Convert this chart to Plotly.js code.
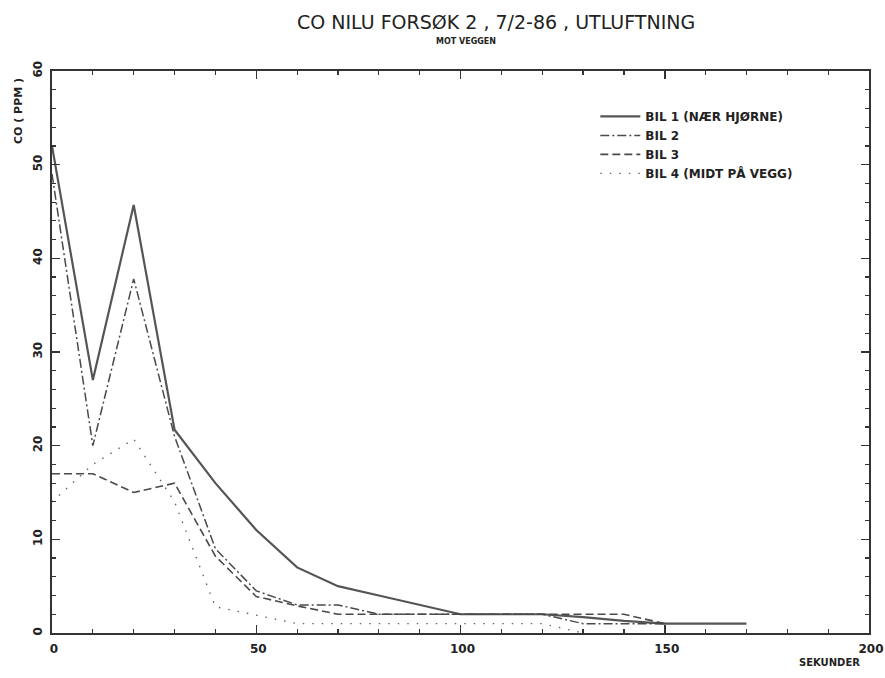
<!DOCTYPE html>
<html>
<head>
<meta charset="utf-8">
<script src="https://cdn.plot.ly/plotly-3.0.1.min.js"></script>
<style>html,body{margin:0;padding:0;background:#fff;}#chart{width:885px;height:678px;}</style>
</head>
<body>
<div id="chart"></div>
<script>
// Time (seconds)
const seconds1 = [0, 10, 20, 30, 40, 50, 60, 70, 80, 90, 100, 110, 120, 130, 140, 150, 160, 170];
const bil1 = [52, 27, 45.7, 21.7, 16, 11, 7, 5, 4, 3, 2, 2, 2, 1.7, 1.3, 1, 1, 1];
const seconds2 = [0, 10, 20, 30, 40, 50, 60, 70, 80, 90, 100, 110, 120, 130, 140, 150];
const bil2 = [49, 20, 37.8, 21, 9, 4.5, 3, 3, 2, 2, 2, 2, 2, 1, 1, 1];
const seconds3 = [0, 10, 20, 30, 40, 50, 60, 70, 80, 90, 100, 110, 120, 130, 140, 150];
const bil3 = [17, 17, 15, 16, 8.2, 3.9, 2.9, 2, 2, 2, 2, 2, 2, 2, 2, 1];
const seconds4 = [0, 10, 20, 30, 40, 50, 60, 70, 80, 90, 100, 110, 120, 130];
const bil4 = [14, 18, 20.7, 14, 2.8, 1.9, 1, 1, 1, 1, 1, 1, 1, 0];
const seriesNames = ["BIL 1 (NÆR HJØRNE)", "BIL 2", "BIL 3", "BIL 4 (MIDT PÅ VEGG)"];
const titleText = "CO NILU FORSØK 2 , 7/2-86 , UTLUFTNING";
const subtitleText = "MOT VEGGEN";
const yTitle = "CO ( PPM )";
const xTitle = "SEKUNDER";

const lineCol = "#4a4a4a";
const traces = [
  {x: seconds1, y: bil1, name: seriesNames[0], mode: "lines", line: {color: "#555", width: 2.2, dash: "solid"}},
  {x: seconds2, y: bil2, name: seriesNames[1], mode: "lines", line: {color: lineCol, width: 1.5, dash: "9px,3px,2px,3px"}},
  {x: seconds3, y: bil3, name: seriesNames[2], mode: "lines", line: {color: lineCol, width: 1.6, dash: "8px,4px"}},
  {x: seconds4, y: bil4, name: seriesNames[3], mode: "lines", line: {color: "#666", width: 1.4, dash: "1.5px,8px"}}
];

const font = "DejaVu Sans, Liberation Sans, sans-serif";
const layout = {
  width: 885, height: 678,
  margin: {l: 52, r: 16, t: 71, b: 45},
  paper_bgcolor: "#fff", plot_bgcolor: "#fff",
  showlegend: true,
  legend: {x: 0.665, y: 0.945, xanchor: "left", yanchor: "top", bgcolor: "rgba(0,0,0,0)",
           font: {family: font, size: 12, color: "#222", weight: "bold"}, tracegroupgap: 0, itemwidth: 40},
  xaxis: {range: [0, 200], dtick: 50, tick0: 0, ticks: "inside", ticklen: 8, tickwidth: 1.5, tickcolor: "#333",
          showline: true, linecolor: "#333", linewidth: 2, mirror: "ticks", showgrid: false, zeroline: false,
          tickfont: {family: font, size: 12, color: "#222", weight: "bold"}, ticklabelshift: 2, ticklabelstandoff: 4,
          ticklabeloverflow: "allow",
          minor: {dtick: 10, ticks: "inside", ticklen: 4, tickcolor: "#333", tickwidth: 1.2, showgrid: false}},
  yaxis: {range: [0, 60], dtick: 10, tick0: 0, ticks: "inside", ticklen: 8, tickwidth: 1.5, tickcolor: "#333",
          showline: true, linecolor: "#333", linewidth: 2, mirror: "ticks", showgrid: false, zeroline: false,
          tickangle: -90, tickfont: {family: font, size: 12, color: "#222", weight: "bold"}, ticklabelstandoff: 3,
          ticklabeloverflow: "allow",
          minor: {dtick: 2, ticks: "inside", ticklen: 4, tickcolor: "#333", tickwidth: 1.2, showgrid: false}},
  annotations: [
    {text: titleText, xref: "paper", yref: "paper", x: 0.543, y: 1, yshift: 49, xanchor: "center", yanchor: "middle",
     showarrow: false, font: {family: font, size: 19, color: "#222"}},
    {text: subtitleText, xref: "paper", yref: "paper", x: 0.507, y: 1, yshift: 30, xanchor: "center", yanchor: "middle",
     showarrow: false, font: {family: font, size: 8, color: "#222", weight: "bold"}},
    {text: yTitle, xref: "paper", yref: "paper", x: 0, xshift: -34, y: 1, yshift: -40, xanchor: "center", yanchor: "middle",
     textangle: -90, showarrow: false, font: {family: font, size: 11, color: "#222", weight: "bold"}},
    {text: xTitle, xref: "paper", yref: "paper", x: 0.952, y: 0, yshift: -29, xanchor: "center", yanchor: "middle",
     showarrow: false, font: {family: font, size: 10, color: "#222", weight: "bold"}}
  ]
};
Plotly.newPlot("chart", traces, layout, {displayModeBar: false, staticPlot: true});
</script>
</body>
</html>
